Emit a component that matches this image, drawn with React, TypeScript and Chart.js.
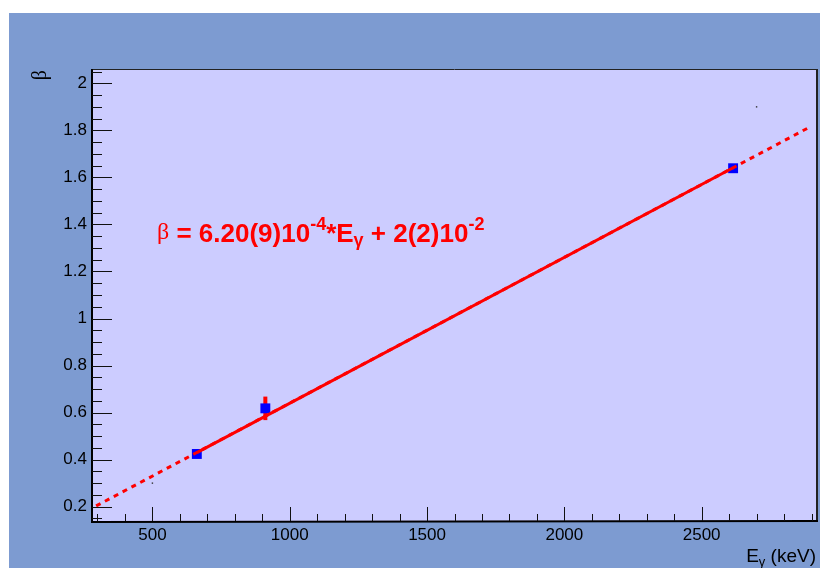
import React, { useEffect, useRef } from "react";
import { Chart, registerables } from "chart.js";

Chart.register(...registerables);

// ---------- data ----------
const energies = [661.7, 911.2, 2614.5]; // keV
const betas = [0.424, 0.618, 1.639];
const betaErrors = [0.008, 0.05, 0.008];

// fit line inside the fit range (solid) and its extension (dotted)
const fitLineE = [661.7, 2614.5];
const fitLineBeta = [0.43, 1.641];
const extLineE = [295, 2895];
const extLineBeta = [0.203, 1.815];

// tiny auxiliary points
const auxE = [500, 2700];
const auxBeta = [0.3, 1.9];

const xTicks = [500, 1000, 1500, 2000, 2500];
const xTickLabels = ["500", "1000", "1500", "2000", "2500"];
const yTicks = [0.2, 0.4, 0.6, 0.8, 1, 1.2, 1.4, 1.6, 1.8, 2];
const yTickLabels = ["0.2", "0.4", "0.6", "0.8", "1", "1.2", "1.4", "1.6", "1.8", "2"];

const X_MIN = 280;
const X_MAX = 2920;
const Y_MIN = 0.139;
const Y_MAX = 2.061;
const X_MINOR = 100;
const Y_MINOR = 0.05;

// ---------- styles ----------
const OUTER = "rgb(125,155,209)";
const FRAME = "#ccccff";
const RED = "#ff0000";
const SANS = "'Liberation Sans', Arial, Helvetica, sans-serif";
const SERIF = "'Liberation Serif', 'DejaVu Serif', serif";

type Seg = { t: string; font: string; dy?: number };

function drawSegs(ctx: CanvasRenderingContext2D, segs: Seg[], x: number, y: number, align: "left" | "right", color: string) {
  ctx.save();
  ctx.fillStyle = color;
  ctx.textBaseline = "alphabetic";
  ctx.textAlign = "left";
  let total = 0;
  for (const s of segs) {
    ctx.font = s.font;
    total += ctx.measureText(s.t).width;
  }
  let cx = align === "left" ? x : x - total;
  for (const s of segs) {
    ctx.font = s.font;
    ctx.fillText(s.t, cx, y + (s.dy || 0));
    cx += ctx.measureText(s.t).width;
  }
  ctx.restore();
}

const rootPlugin = {
  id: "rootStyle",
  beforeDraw(chart: any) {
    const { ctx, chartArea: a, width, height } = chart;
    ctx.save();
    ctx.fillStyle = "#ffffff";
    ctx.fillRect(0, 0, width, height);
    ctx.fillStyle = OUTER;
    ctx.fillRect(1, 5, width - 1, height - 5);
    ctx.fillStyle = FRAME;
    ctx.fillRect(a.left, a.top, a.right - a.left, a.bottom - a.top);
    ctx.restore();
  },
  beforeDatasetsDraw(chart: any) {
    const { ctx } = chart;
    const xs = chart.scales.x;
    const ys = chart.scales.y;
    ctx.save();
    ctx.strokeStyle = RED;
    ctx.lineWidth = 4;
    for (let i = 0; i < energies.length; i++) {
      const px = xs.getPixelForValue(energies[i]);
      ctx.beginPath();
      ctx.moveTo(px, ys.getPixelForValue(betas[i] - betaErrors[i]));
      ctx.lineTo(px, ys.getPixelForValue(betas[i] + betaErrors[i]));
      ctx.stroke();
    }
    ctx.restore();
  },
  afterDraw(chart: any) {
    const { ctx, chartArea: a } = chart;
    const xs = chart.scales.x;
    const ys = chart.scales.y;
    ctx.save();
    // frame
    ctx.strokeStyle = "#222";
    ctx.lineWidth = 1;
    ctx.beginPath();
    ctx.moveTo(a.left, a.top + 0.5);
    ctx.lineTo(a.right, a.top + 0.5);
    ctx.stroke();
    ctx.lineWidth = 2;
    ctx.beginPath();
    ctx.moveTo(a.right, a.top);
    ctx.lineTo(a.right, a.bottom);
    ctx.stroke();
    ctx.strokeStyle = "#000";
    ctx.beginPath();
    ctx.moveTo(a.left, a.top);
    ctx.lineTo(a.left, a.bottom + 1);
    ctx.lineTo(a.right + 1, a.bottom);
    ctx.stroke();

    // ticks
    ctx.lineWidth = 1;
    ctx.strokeStyle = "#111";
    ctx.beginPath();
    const x0 = Math.ceil(X_MIN / X_MINOR) * X_MINOR;
    for (let v = x0; v <= X_MAX + 1e-9; v += X_MINOR) {
      const px = Math.round(xs.getPixelForValue(v)) + 0.5;
      const major = Math.abs(v / 500 - Math.round(v / 500)) < 1e-6;
      ctx.moveTo(px, a.bottom);
      ctx.lineTo(px, a.bottom - (major ? 14 : 7));
    }
    const n0 = Math.ceil(Y_MIN / Y_MINOR - 1e-9);
    for (let k = n0; k * Y_MINOR <= Y_MAX + 1e-9; k++) {
      const v = k * Y_MINOR;
      const py = Math.round(ys.getPixelForValue(v)) + 0.5;
      const major = k % 4 === 0;
      ctx.moveTo(a.left, py);
      ctx.lineTo(a.left + (major ? 20 : 10), py);
    }
    ctx.stroke();
    ctx.restore();

    // y title (rotated beta)
    ctx.save();
    ctx.translate(38, 62);
    ctx.rotate(-Math.PI / 2);
    ctx.font = `20px ${SERIF}`;
    ctx.fillStyle = "#000";
    ctx.textAlign = "right";
    ctx.textBaseline = "alphabetic";
    ctx.fillText("\u03B2", 0, 0);
    ctx.restore();

    // x title
    drawSegs(
      ctx,
      [
        { t: "E", font: `19px ${SANS}` },
        { t: "\u03B3", font: `13px ${SANS}`, dy: 4 },
        { t: " (keV)", font: `19px ${SANS}` },
      ],
      808,
      553.7,
      "right",
      "#000"
    );

    // fit equation
    drawSegs(
      ctx,
      [
        { t: "\u03B2", font: `24px ${SERIF}`, dy: -3 },
        { t: " = 6.20(9)10", font: `bold 26px ${SANS}` },
        { t: "-4", font: `bold 18px ${SANS}`, dy: -12 },
        { t: "*E", font: `bold 26px ${SANS}` },
        { t: "\u03B3", font: `bold 18px ${SANS}`, dy: 4 },
        { t: " + 2(2)10", font: `bold 26px ${SANS}` },
        { t: "-2", font: `bold 18px ${SANS}`, dy: -12 },
      ],
      149,
      234,
      "left",
      RED
    );
  },
};

export default function App() {
  const ref = useRef<HTMLCanvasElement | null>(null);

  useEffect(() => {
    if (!ref.current) return;
    const chart = new Chart(ref.current, {
      type: "scatter",
      data: {
        datasets: [
          {
            label: "fit",
            data: fitLineE.map((e, i) => ({ x: e, y: fitLineBeta[i] })),
            showLine: true,
            borderColor: RED,
            borderWidth: 3,
            pointRadius: 0,
            order: 0,
          },
          {
            label: "fit extension",
            data: extLineE.map((e, i) => ({ x: e, y: extLineBeta[i] })),
            showLine: true,
            borderColor: RED,
            borderWidth: 3,
            borderDash: [5, 5],
            pointRadius: 0,
            order: 1,
          },
          {
            label: "data",
            data: energies.map((e, i) => ({ x: e, y: betas[i] })),
            pointStyle: "rect",
            pointRadius: 7,
            backgroundColor: "#0000ff",
            borderWidth: 0,
            order: 2,
          },
          {
            label: "aux",
            data: auxE.map((e, i) => ({ x: e, y: auxBeta[i] })),
            pointStyle: "rect",
            pointRadius: 1,
            backgroundColor: "#333",
            borderWidth: 0,
            order: 3,
          },
        ],
      },
      options: {
        animation: false,
        responsive: false,
        events: [],
        layout: { padding: { top: 61, right: 11, left: 0, bottom: 0 } },
        plugins: { legend: { display: false }, tooltip: { enabled: false } },
        scales: {
          x: {
            type: "linear",
            min: X_MIN,
            max: X_MAX,
            grid: { display: false, drawTicks: false },
            border: { display: false },
            afterBuildTicks: (s: any) => {
              s.ticks = xTicks.map((v) => ({ value: v }));
            },
            afterFit: (s: any) => {
              s.height = 47;
            },
            ticks: {
              padding: 4,
              maxRotation: 0,
              autoSkip: false,
              color: "#000",
              font: { family: SANS, size: 17 },
              callback: (_v: any, i: number) => xTickLabels[i],
            },
          },
          y: {
            type: "linear",
            min: Y_MIN,
            max: Y_MAX,
            grid: { display: false, drawTicks: false },
            border: { display: false },
            afterBuildTicks: (s: any) => {
              s.ticks = yTicks.map((v) => ({ value: v }));
            },
            afterFit: (s: any) => {
              s.width = 84;
            },
            ticks: {
              padding: 5,
              autoSkip: false,
              color: "#000",
              font: { family: SANS, size: 17 },
              callback: (_v: any, i: number) => yTickLabels[i],
            },
          },
        },
      },
      plugins: [rootPlugin],
    } as any);
    return () => chart.destroy();
  }, []);

  return <canvas ref={ref} width={820} height={560} style={{ display: "block", width: 820, height: 560 }} />;
}
